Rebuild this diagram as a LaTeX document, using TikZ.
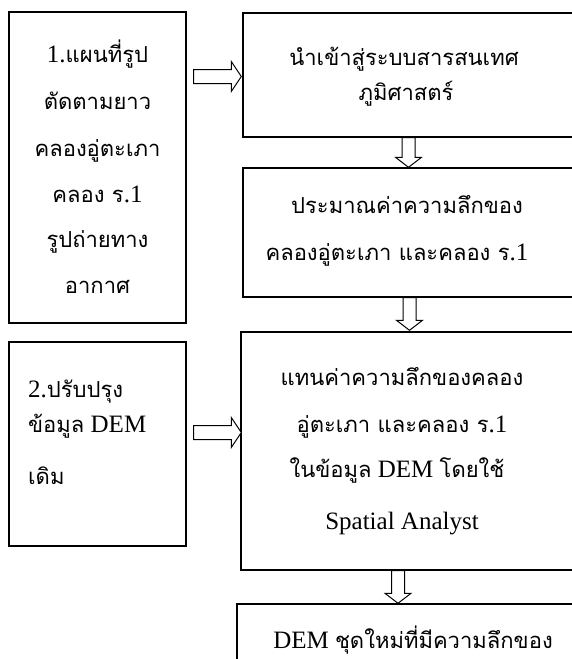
\documentclass[tikz,border=0pt]{standalone}
\usepackage{fontspec}
\setmainfont{Liberation Serif}
\newfontfamily\thf[Script=Thai]{Loma}
\usetikzlibrary{calc}
\newcommand\thx[1]{{\thf\fontsize{22}{26}\selectfont #1}}
\tikzset{
  box/.style={draw, line width=1.4pt, rectangle, inner sep=0pt},
  txt/.style={anchor=base, inner sep=0pt, font=\fontsize{25}{30}\selectfont},
  barrow/.style={draw, line width=1pt, fill=white, line join=miter},
}
\newcommand\RArr[2]{%
  \draw[barrow] let \p1=#1, \p2=#2 in
    (\x1,{\y1+7pt}) -- ({\x2-10pt},{\y1+7pt}) -- ({\x2-10pt},{\y1+15pt}) -- (\x2,\y1)
    -- ({\x2-10pt},{\y1-15pt}) -- ({\x2-10pt},{\y1-7pt}) -- (\x1,{\y1-7pt}) -- cycle;}
\newcommand\DArr[2]{%
  \draw[barrow] let \p1=#1, \p2=#2 in
    ({\x1-6.5pt},\y1) -- ({\x1-6.5pt},{\y2+10pt}) -- ({\x1-13pt},{\y2+10pt}) -- (\x1,\y2)
    -- ({\x1+13pt},{\y2+10pt}) -- ({\x1+6.5pt},{\y2+10pt}) -- ({\x1+6.5pt},\y1) -- cycle;}
\begin{document}
\begin{tikzpicture}[x=1pt,y=-1pt]
\useasboundingbox (0,0) rectangle (572,659);
% boxes
\node[box, minimum width=177pt, minimum height=311pt] (b1) at (97.5,167.5) {};
\node[box, minimum width=177pt, minimum height=204pt] (b2) at (97.5,444) {};
\node[box, minimum width=337pt, minimum height=124pt] (bA) at (411.5,75) {};
\node[box, minimum width=337pt, minimum height=129pt] (bB) at (411.5,232.5) {};
\node[box, minimum width=339pt, minimum height=238pt] (bC) at (410.5,451) {};
\node[box, minimum width=343pt, minimum height=96pt] (bD) at (408.5,652) {};
% box 1 text
\node[txt] (t11) at (97.5,62) {1.\thx{แผนที่รูป}};
\node[txt] (t12) at (97.5,109) {\thx{ตัดตามยาว}};
\node[txt] (t13) at (97.5,156) {\thx{คลองอู่ตะเภา}};
\node[txt] (t14) at (97.5,202) {\thx{คลอง ร}.1};
\node[txt] (t15) at (97.5,247) {\thx{รูปถ่ายทาง}};
\node[txt] (t16) at (97.5,293) {\thx{อากาศ}};
% box 2 text
\node[txt, anchor=base west] (t21) at (28,397) {2.\thx{ปรับปรุง}};
\node[txt, anchor=base west] (t22) at (28,432) {\thx{ข้อมูล} DEM};
\node[txt, anchor=base west] (t23) at (28,484) {\thx{เดิม}};
% box A text
\node[txt] (tA1) at (404,65) {\thx{นำเข้าสู่ระบบสารสนเทศ}};
\node[txt] (tA2) at (406,100) {\thx{ภูมิศาสตร์}};
% box B text
\node[txt] (tB1) at (407,213) {\thx{ประมาณค่าความลึกของ}};
\node[txt] (tB2) at (397,260) {\thx{คลองอู่ตะเภา และคลอง ร}.1};
% box C text
\node[txt] (tC1) at (402,385) {\thx{แทนค่าความลึกของคลอง}};
\node[txt] (tC2) at (402,432) {\thx{อู่ตะเภา และคลอง ร}.1};
\node[txt] (tC3) at (397,477) {\thx{ในข้อมูล} DEM \thx{โดยใช้}};
\node[txt] (tC4) at (402,529) {Spatial Analyst};
% box D text
\node[txt] (tD1) at (413,648) {DEM \thx{ชุดใหม่ที่มีความลึกของ}};
% block arrows
\RArr{($(b1.east |- 0,76.5)+(7,0)$)}{($(bA.west |- 0,76.5)+(-1,0)$)}
\RArr{($(b2.east |- 0,432.5)+(7,0)$)}{($(bC.west |- 0,432.5)+(1,0)$)}
\DArr{(408.5,0 |- bA.south)}{(408.5,0 |- bB.north)}
\DArr{(409.5,0 |- bB.south)}{($(409.5,0 |- bC.north)+(0,-1)$)}
\DArr{(398,0 |- bC.south)}{(398,0 |- bD.north)}
\end{tikzpicture}
\end{document}
